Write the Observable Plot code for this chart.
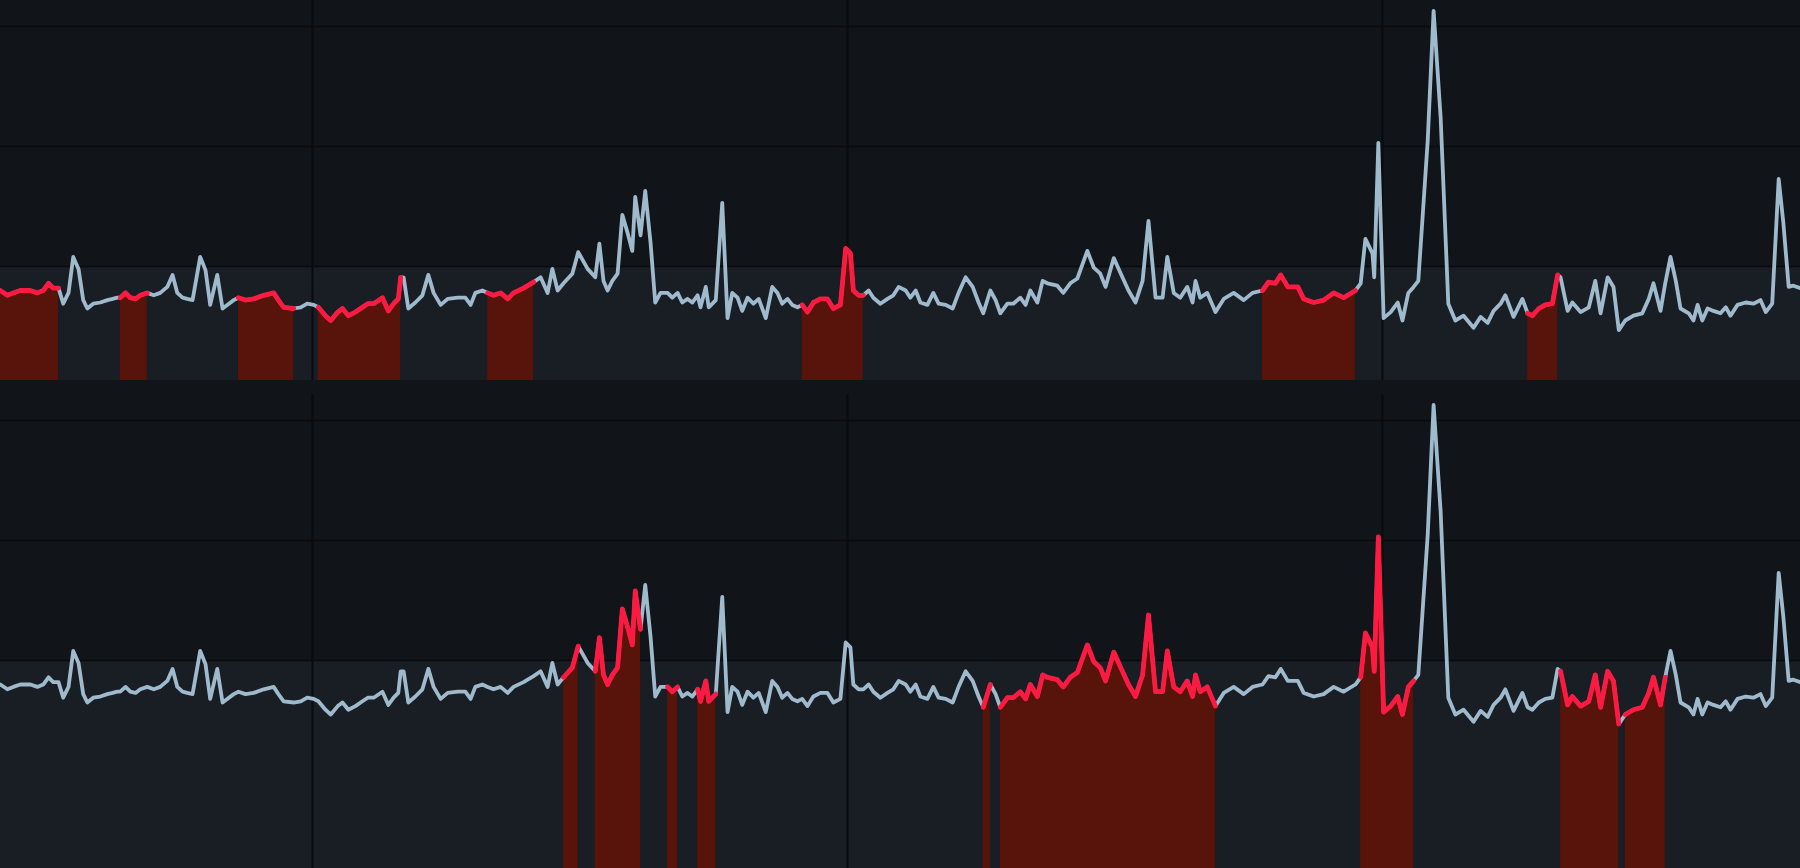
<!DOCTYPE html>
<html>
<head>
<meta charset="utf-8">
<script src="https://cdn.jsdelivr.net/npm/d3@7"></script>
<script src="https://cdn.jsdelivr.net/npm/@observablehq/plot@0.6"></script>
<style>
  html, body { margin: 0; padding: 0; background: #111418; width: 1800px; height: 868px; overflow: hidden; }
  #chart svg { display: block; }
  #lower { margin-top: 14px; }
</style>
</head>
<body>
<div id="chart"><div id="upper"></div><div id="lower"></div></div>
<script>
// Daily-ish readings, as day offsets from 2024-01-01 and the measured level.
const days = [
  -53.1,-51.9,-50.9,-49.7,-48.0,-46.8,-45.8,-44.9,-44.1,-43.2,
  -42.4,-41.5,-40.7,-39.8,-39.0,-38.3,-37.3,-36.1,-34.9,-34.0,
  -33.2,-32.7,-31.8,-31.0,-30.1,-29.3,-28.1,-27.0,-25.9,-24.7,
  -23.8,-23.0,-22.1,-21.3,-20.4,-19.1,-18.2,-17.4,-16.2,-15.3,
  -14.5,-13.4,-12.6,-11.4,-10.0,-8.3,-6.6,-5.8,-4.9,-3.2,
  -2.0,-0.9,0.2,1.0,2.2,3.1,4.3,5.1,6.1,7.3,
  8.5,9.4,10.4,11.9,12.9,13.8,14.6,15.0,15.5,16.3,
  17.5,18.7,19.7,20.6,21.8,23.0,24.7,26.0,26.9,27.7,
  28.9,29.8,30.8,32.0,33.2,34.2,35.9,37.6,38.8,40.0,
  40.8,41.7,42.7,44.2,45.2,46.8,48.1,48.8,49.5,50.2,
  51.0,51.9,52.7,53.6,54.4,54.9,55.8,56.6,57.5,58.3,
  59.2,60.4,61.2,62.1,62.9,63.8,64.6,65.5,66.0,66.9,
  67.4,68.6,69.7,70.6,71.4,72.3,73.1,74.0,75.0,75.9,
  77.1,78.2,79.1,79.9,80.8,81.6,82.5,83.3,84.2,85.2,
  86.4,87.6,88.6,89.8,90.7,91.5,92.0,92.9,93.7,94.6,
  95.4,96.6,97.8,98.8,99.7,100.9,101.7,102.6,103.4,104.6,
  105.6,106.5,107.7,108.9,109.9,111.1,112.3,113.3,114.1,115.3,
  116.2,117.0,118.2,119.2,120.4,121.3,122.1,123.3,124.2,125.0,
  126.7,127.7,128.9,130.1,131.8,132.9,134.0,134.9,136.3,137.4,
  138.8,140.0,141.2,142.2,143.4,144.6,145.4,146.5,147.6,148.8,
  149.7,150.2,151.0,152.2,153.6,155.0,156.7,158.4,159.9,161.6,
  162.6,163.8,164.7,165.9,167.6,168.6,170.3,172.0,173.7,175.4,
  177.4,178.3,179.1,180.3,180.6,181.3,182.2,183.4,184.6,185.4,
  186.4,187.3,188.1,189.7,190.7,191.9,193.2,194.4,195.8,197.5,
  198.7,199.9,200.9,202.1,202.9,204.3,205.8,206.7,207.5,208.6,
  209.7,210.9,211.8,212.3,213.5,214.3,215.7,217.1,218.2,219.1,
  220.3,221.3,222.2,223.3,224.7,226.2,227.3,228.1,229.3,230.1,
  231.0,231.9,232.7,234.1,234.9,235.6,236.4,237.3,238.3,239.5,
  240.4,241.2,242.4,243.8,245.1,246.3,247.2,248.3,249.4,250.2,
  251.1,251.9,253.1
];
const values = [
  0.80,0.76,0.78,0.80,0.80,0.78,0.80,0.86,0.82,0.82,
  0.69,0.78,1.08,0.98,0.72,0.65,0.69,0.70,0.72,0.73,
  0.74,0.74,0.78,0.74,0.73,0.76,0.78,0.76,0.78,0.83,
  0.93,0.78,0.74,0.73,0.72,1.08,0.97,0.68,0.93,0.65,
  0.68,0.72,0.74,0.72,0.73,0.76,0.78,0.72,0.66,0.65,
  0.66,0.69,0.68,0.66,0.59,0.55,0.62,0.65,0.59,0.62,
  0.66,0.69,0.69,0.74,0.63,0.69,0.73,0.91,0.91,0.65,
  0.70,0.76,0.93,0.78,0.68,0.73,0.74,0.74,0.68,0.78,
  0.80,0.78,0.76,0.78,0.73,0.78,0.82,0.87,0.91,0.78,
  0.98,0.80,0.86,0.94,1.12,0.98,0.91,1.19,0.88,0.80,
  0.88,0.94,1.43,1.28,1.13,1.58,1.26,1.63,1.20,0.70,
  0.78,0.78,0.74,0.78,0.70,0.73,0.70,0.76,0.66,0.83,
  0.66,0.72,1.53,0.57,0.78,0.74,0.63,0.74,0.69,0.73,
  0.57,0.83,0.78,0.69,0.73,0.68,0.66,0.68,0.62,0.70,
  0.73,0.73,0.65,0.68,1.15,1.11,0.80,0.76,0.76,0.80,
  0.74,0.69,0.73,0.76,0.83,0.80,0.74,0.80,0.70,0.68,
  0.78,0.69,0.68,0.65,0.78,0.91,0.83,0.70,0.61,0.80,
  0.72,0.61,0.69,0.69,0.74,0.68,0.80,0.70,0.88,0.86,
  0.84,0.78,0.86,0.90,1.13,0.99,0.94,0.83,1.07,0.95,
  0.80,0.70,0.88,1.38,0.74,0.74,1.08,0.78,0.74,0.83,
  0.70,0.88,0.74,0.78,0.62,0.73,0.78,0.72,0.78,0.80,
  0.87,0.86,0.93,0.83,0.83,0.73,0.70,0.72,0.78,0.74,
  0.80,0.86,1.23,1.11,0.91,2.03,0.57,0.62,0.70,0.55,
  0.78,0.83,0.88,2.05,3.13,2.24,0.69,0.55,0.59,0.49,
  0.58,0.53,0.63,0.69,0.76,0.58,0.73,0.61,0.59,0.65,
  0.68,0.69,0.93,0.91,0.63,0.70,0.62,0.66,0.88,0.61,
  0.91,0.83,0.47,0.55,0.59,0.61,0.73,0.86,0.63,0.86,
  1.08,0.88,0.65,0.61,0.55,0.68,0.55,0.65,0.63,0.61,
  0.66,0.59,0.68,0.70,0.69,0.72,0.62,0.69,1.73,1.36,
  0.83,0.84,0.82
];

// Flagged stretches (first day, last day) for each panel.
const upperSpans = [
  [-53.1, -43.2], [-32.7, -28.1], [-12.6, -3.2], [1.0, 15.0],
  [29.8, 37.6], [83.3, 93.7], [161.6, 177.4], [206.7, 211.8]
];
const lowerSpans = [
  [42.7, 45.2], [48.1, 55.8], [60.4, 62.1], [65.5, 68.6],
  [114.1, 115.3], [117.0, 153.6], [178.3, 187.3], [212.3, 222.2], [223.3, 230.1]
];

// Reference levels and quarter boundaries drawn as grid lines.
const gridLevels = [1, 2, 3];
const gridDays = [0, 91, 182];
const normalCeiling = 1;

const origin = Date.UTC(2024, 0, 1);
const toDate = (d) => new Date(origin + d * 864e5);

const series = days.map((d, i) => ({date: toDate(d), day: d, v: values[i]}));
const xDomain = [toDate(-53.07), toDate(253.11)];
const yTop = 3.2167;

const colors = {
  band: "#191d24",
  grid: "#090b0d",
  line: "#9fb9cd",
  hot: "#fb1a42",
  hotFill: "#58130a"
};

function flagged(spans) {
  const out = [];
  spans.forEach(([a, b], k) => {
    for (const p of series) if (p.day >= a && p.day <= b) out.push({...p, seg: k});
  });
  return out;
}

function panel(height, yBottom, spans) {
  const hi = flagged(spans);
  return Plot.plot({
    width: 1800,
    height,
    margin: 0,
    style: {background: "transparent", overflow: "hidden"},
    x: {type: "utc", domain: xDomain, axis: null},
    y: {domain: [yBottom, yTop], axis: null},
    marks: [
      Plot.rect([{x1: xDomain[0], x2: xDomain[1], y1: yBottom, y2: normalCeiling}],
        {x1: "x1", x2: "x2", y1: "y1", y2: "y2", fill: colors.band}),
      Plot.ruleY(gridLevels, {stroke: colors.grid, strokeWidth: 1.6}),
      Plot.ruleX(gridDays.map(toDate), {stroke: colors.grid, strokeWidth: 2}),
      Plot.areaY(hi, {x: "date", y1: () => yBottom, y2: "v", z: "seg", fill: colors.hotFill}),
      Plot.line(series, {x: "date", y: "v", stroke: colors.line, strokeWidth: 3.8,
        strokeLinejoin: "round", strokeLinecap: "round"}),
      Plot.line(hi, {x: "date", y: "v", z: "seg", stroke: colors.hot, strokeWidth: 4.8,
        strokeLinejoin: "round", strokeLinecap: "round"})
    ]
  });
}

document.getElementById("upper").append(panel(380, 0.05, upperSpans));
document.getElementById("lower").append(panel(474, -0.7333, lowerSpans));
</script>
</body>
</html>
